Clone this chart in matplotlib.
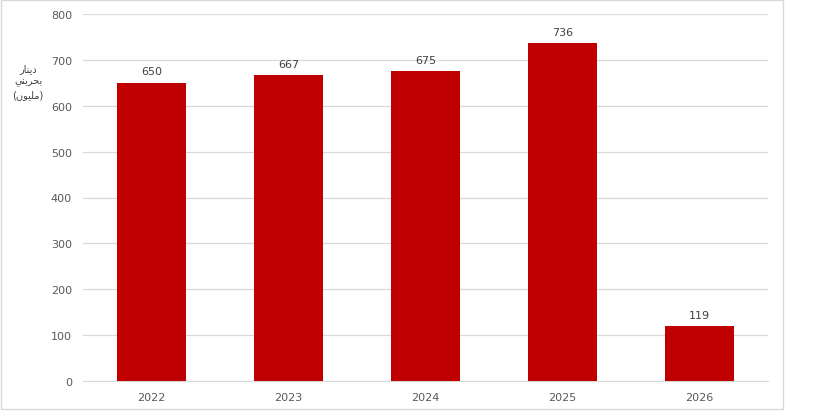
import matplotlib
matplotlib.use("Agg")
import matplotlib.pyplot as plt
from matplotlib.patches import Rectangle

years = ["2022", "2023", "2024", "2025", "2026"]
values = [650, 667, 675, 736, 119]
yticks = [0, 100, 200, 300, 400, 500, 600, 700, 800]
# Arabic label "دينار بحريني (مليون)" in presentation forms, visual (left-to-right) order
ylabel_lines = ["\uFEAD\uFE8E\uFEE8\uFEF3\uFEA9",
                "\uFEF2\uFEE8\uFEF3\uFEAE\uFEA4\uFE91",
                "(\uFEE5\uFEEE\uFEF4\uFEE0\uFEE3)"]

fig = plt.figure(figsize=(8.13, 4.14), dpi=100)
ax = fig.add_axes([83/813, 1-382/414, (768-83)/813, (382-15)/414])

x = range(len(years))
bars = ax.bar(x, values, width=0.5, color="#C00000", zorder=3)
for xi, v in zip(x, values):
    ax.text(xi, v + 14, str(v), ha="center", va="bottom", fontsize=8, color="#404040")

ax.set_xlim(-0.5, len(years) - 0.5)
ax.set_ylim(0, 800)
ax.set_yticks(yticks)
ax.set_xticks(list(x))
ax.set_xticklabels(years)
ax.tick_params(axis="both", length=0, labelsize=8, colors="#595959")
ax.tick_params(axis="x", pad=8)
ax.tick_params(axis="y", pad=8)
ax.grid(axis="y", color="#D9D9D9", linewidth=0.9, zorder=0)
for s in ["top", "right", "left"]:
    ax.spines[s].set_visible(False)
ax.spines["bottom"].set_color("#D9D9D9")

fig.text(28/813, 1-82/414, "\n".join(ylabel_lines), ha="center", va="center",
         fontsize=7, color="#404040", family="DejaVu Sans", linespacing=1.3)

fig.patches.append(Rectangle((1/813, 1-410/414), 782/813, 409/414, transform=fig.transFigure,
                             fill=False, edgecolor="#D9D9D9", linewidth=1))

fig.savefig("out.png", dpi=100)
